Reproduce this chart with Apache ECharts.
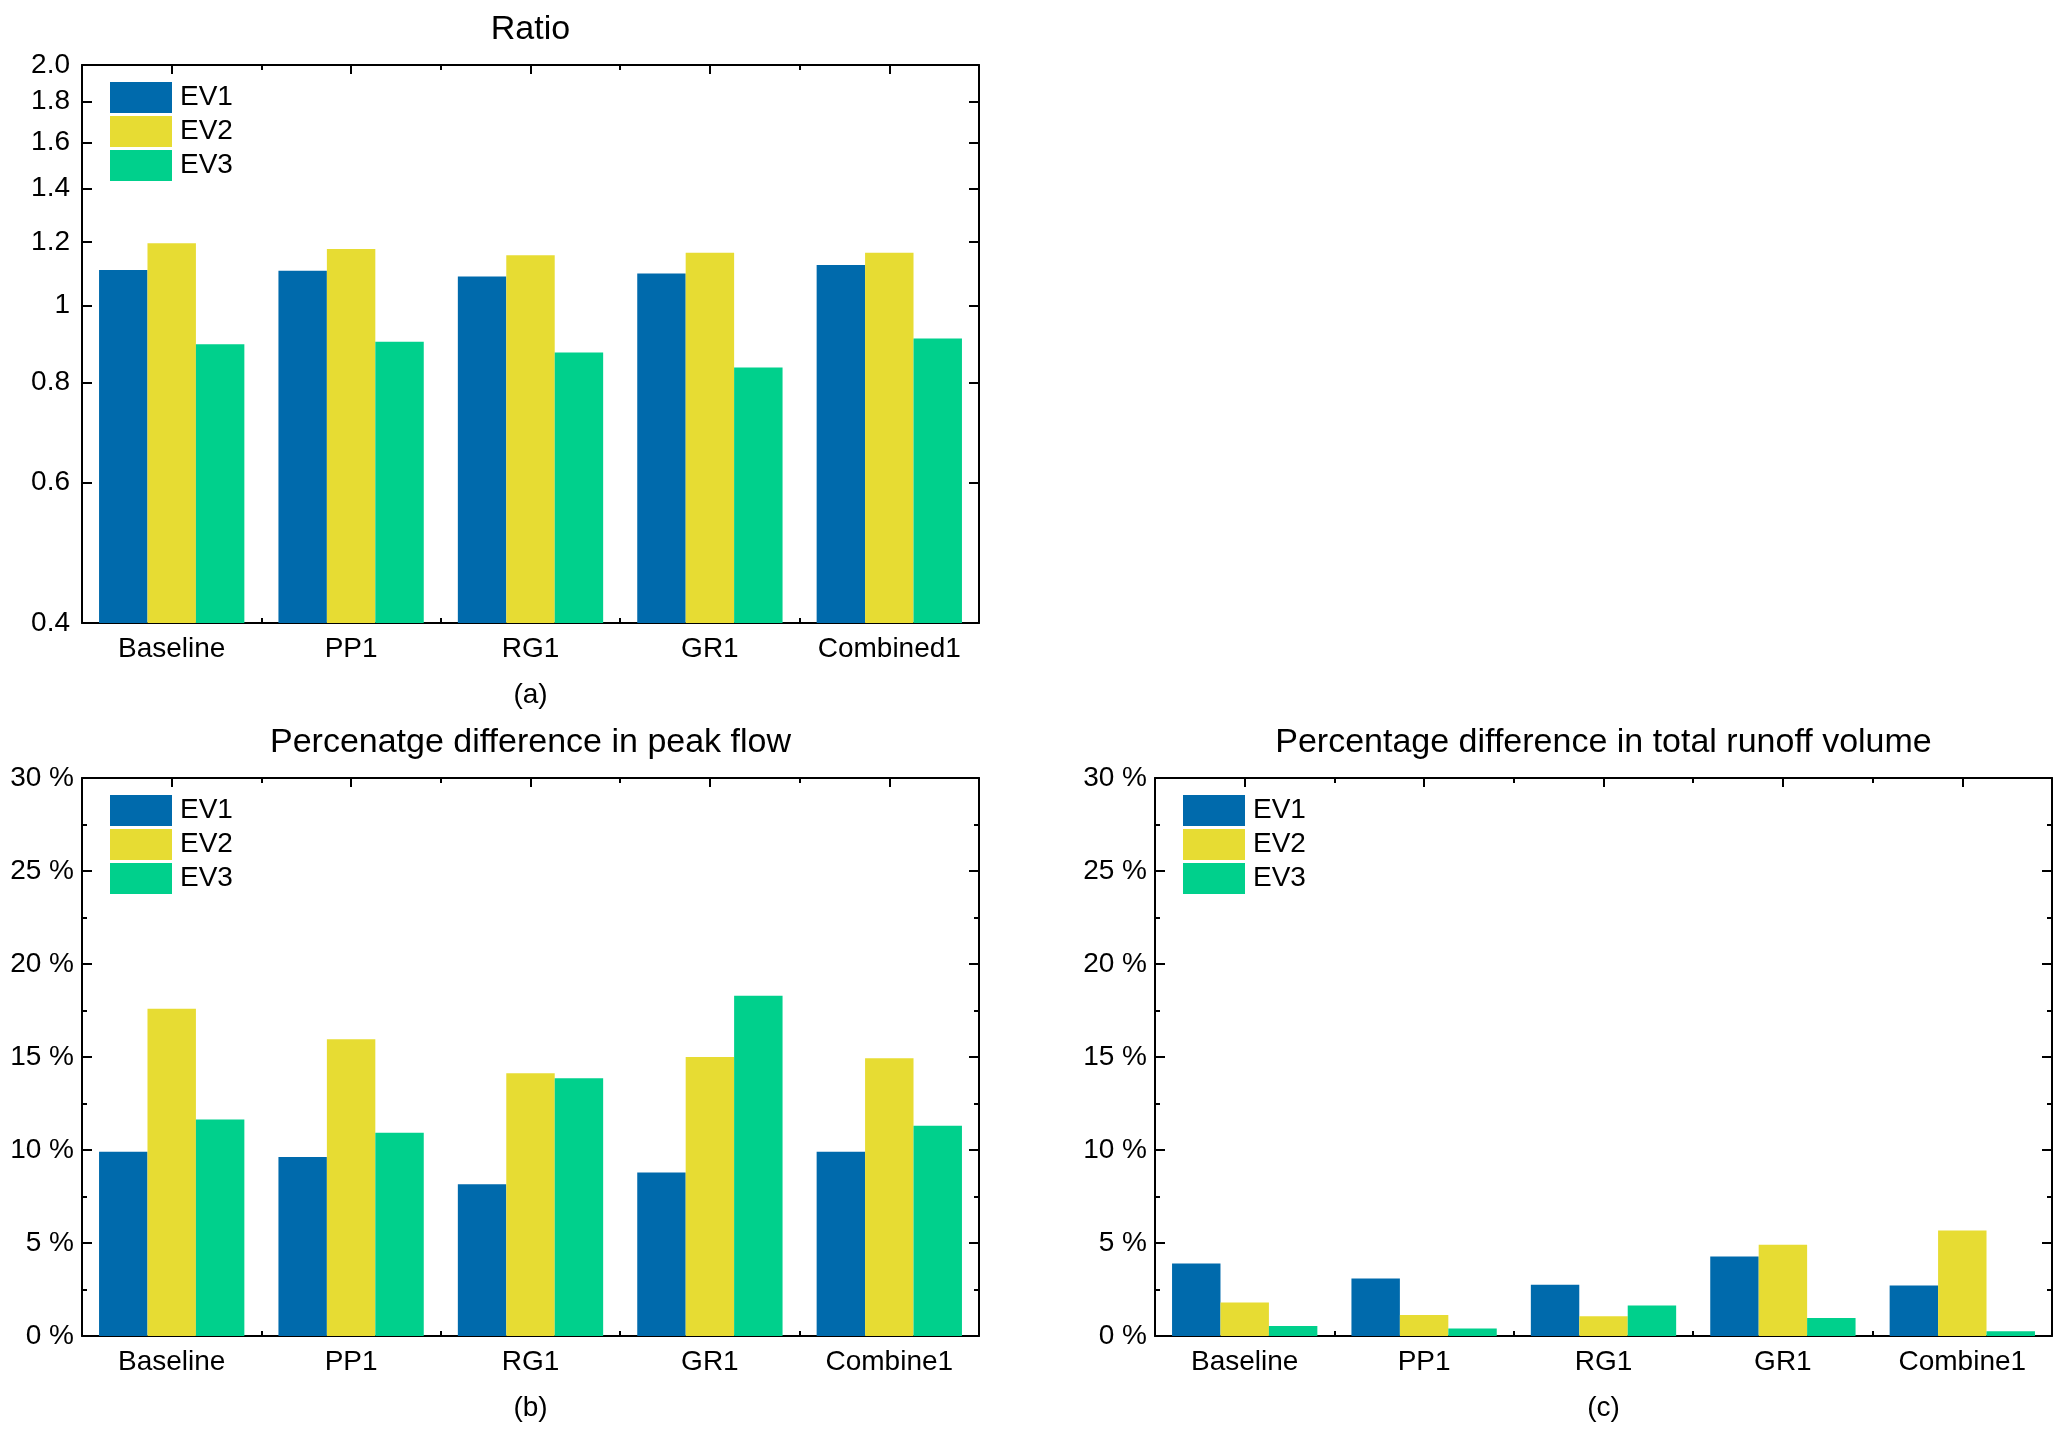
<!DOCTYPE html>
<html><head><meta charset="utf-8">
<script src="https://cdn.jsdelivr.net/npm/echarts@6/dist/echarts.min.js"></script>
<style>html,body{margin:0;padding:0;background:#fff}#c{width:2067px;height:1438px}</style>
</head><body><div id="c"></div>
<script>
const seriesNames = ['EV1', 'EV2', 'EV3'];
const colors = ['#006AAC', '#E7DC33', '#00D08C'];
const catsA = ['Baseline', 'PP1', 'RG1', 'GR1', 'Combined1'];
const catsBC = ['Baseline', 'PP1', 'RG1', 'GR1', 'Combine1'];

const ratioEV1 = [1.107, 1.105, 1.087, 1.096, 1.123];
const ratioEV2 = [1.196, 1.176, 1.155, 1.164, 1.164];
const ratioEV3 = [0.894, 0.900, 0.873, 0.836, 0.909];

const peakEV1 = [9.91, 9.62, 8.16, 8.79, 9.91];
const peakEV2 = [17.59, 15.95, 14.13, 15.0, 14.93];
const peakEV3 = [11.64, 10.93, 13.86, 18.29, 11.30];

const volEV1 = [3.90, 3.09, 2.75, 4.28, 2.72];
const volEV2 = [1.80, 1.13, 1.06, 4.91, 5.67];
const volEV3 = [0.54, 0.40, 1.64, 0.97, 0.25];

const ratioTicks = [0.4, 0.6, 0.8, 1, 1.2, 1.4, 1.6, 1.8, 2.0];
const ratioMin = 0.4, ratioMax = 2.0;
const pctMin = 0, pctMax = 30, pctStep = 5;

const titles = ['Ratio', 'Percenatge difference in peak flow', 'Percentage difference in total runoff volume'];
const subLabels = ['(a)', '(b)', '(c)'];

const FONT = "'Liberation Sans', Arial, sans-serif";
const BLACK = '#000';

const grids = [
  {left: 82, top: 65, width: 897, height: 558},
  {left: 82, top: 778, width: 897, height: 558},
  {left: 1155, top: 778, width: 897, height: 558}
];

const option = {
  backgroundColor: '#fff',
  animation: false,
  textStyle: {fontFamily: FONT},
  grid: grids,
  xAxis: [],
  yAxis: [],
  series: [],
  legend: [],
  graphic: []
};

const lineStyle = {color: BLACK, width: 2};

function addXAxes(gi, cats) {
  const base = option.xAxis.length;
  option.xAxis.push({
    type: 'category', gridIndex: gi, data: cats, position: 'bottom',
    axisLine: {show: true, lineStyle: lineStyle},
    axisTick: {show: true, inside: true, alignWithLabel: true, length: 9, interval: 0, lineStyle: lineStyle},
    axisLabel: {show: true, interval: 0, color: BLACK, fontSize: 28, fontFamily: FONT, margin: 12},
    splitLine: {show: false}
  });
  option.xAxis.push({
    type: 'category', gridIndex: gi, data: cats, position: 'bottom',
    axisLine: {show: false},
    axisTick: {show: true, inside: true, alignWithLabel: false, length: 5, interval: 0, lineStyle: lineStyle},
    axisLabel: {show: false}, splitLine: {show: false}
  });
  option.xAxis.push({
    type: 'category', gridIndex: gi, data: cats, position: 'top',
    axisLine: {show: true, lineStyle: lineStyle},
    axisTick: {show: true, inside: true, alignWithLabel: true, length: 9, interval: 0, lineStyle: lineStyle},
    axisLabel: {show: false}, splitLine: {show: false}
  });
  option.xAxis.push({
    type: 'category', gridIndex: gi, data: cats, position: 'top',
    axisLine: {show: false},
    axisTick: {show: true, inside: true, alignWithLabel: false, length: 5, interval: 0, lineStyle: lineStyle},
    axisLabel: {show: false}, splitLine: {show: false}
  });
  return base;
}

function addYAxesLog(gi) {
  const base = option.yAxis.length;
  const fmt = v => (Math.abs(v - 1) < 1e-9 ? '1' : Number(v).toFixed(1));
  option.yAxis.push({
    type: 'log', logBase: 10, gridIndex: gi, min: ratioMin, max: ratioMax, startValue: ratioMin, position: 'left',
    axisLine: {show: true, lineStyle: lineStyle},
    axisTick: {show: true, inside: true, length: 10, lineStyle: lineStyle, customValues: ratioTicks},
    axisLabel: {show: true, color: BLACK, fontSize: 28, fontFamily: FONT, margin: 12, formatter: fmt, customValues: ratioTicks},
    splitLine: {show: false}
  });
  option.yAxis.push({
    type: 'log', logBase: 10, gridIndex: gi, min: ratioMin, max: ratioMax, startValue: ratioMin, position: 'right',
    axisLine: {show: true, lineStyle: lineStyle},
    axisTick: {show: true, inside: true, length: 10, lineStyle: lineStyle, customValues: ratioTicks},
    axisLabel: {show: false, customValues: ratioTicks},
    splitLine: {show: false}
  });
  return base;
}

function addYAxesPct(gi) {
  const base = option.yAxis.length;
  const common = {
    type: 'value', gridIndex: gi, min: pctMin, max: pctMax, interval: pctStep,
    axisLine: {show: true, lineStyle: lineStyle},
    axisTick: {show: true, inside: true, length: 10, lineStyle: lineStyle},
    minorTick: {show: true, splitNumber: 2, length: 5, lineStyle: lineStyle},
    splitLine: {show: false}, minorSplitLine: {show: false}
  };
  option.yAxis.push(Object.assign({}, common, {
    position: 'left',
    axisLabel: {show: true, color: BLACK, fontSize: 28, fontFamily: FONT, margin: 8, formatter: '{value} %'}
  }));
  option.yAxis.push(Object.assign({}, common, {position: 'right', axisLabel: {show: false}}));
  return base;
}

function addSeries(gi, xi, yi, dataSets) {
  dataSets.forEach((d, k) => {
    option.series.push({
      type: 'bar', name: seriesNames[k], xAxisIndex: xi, yAxisIndex: yi,
      data: d, barGap: '0%', barCategoryGap: '19%',
      itemStyle: {color: colors[k]}
    });
  });
  const g = grids[gi];
  option.legend.push({
    data: seriesNames, orient: 'vertical', left: g.left + 23, top: g.top + 12,
    icon: 'rect', itemWidth: 62, itemHeight: 31, itemGap: 3,
    selectedMode: false,
    textStyle: {fontSize: 28, color: BLACK, fontFamily: FONT, padding: [0, 0, 0, 3]}
  });
  const cx = g.left + g.width / 2;
  option.graphic.push({
    type: 'text', x: cx, y: g.top - 35,
    style: {text: titles[gi], font: '34px ' + FONT, fill: BLACK, textAlign: 'center', textVerticalAlign: 'middle'}
  });
  option.graphic.push({
    type: 'text', x: cx, y: g.top + g.height + 72,
    style: {text: subLabels[gi], font: '28px ' + FONT, fill: BLACK, textAlign: 'center', textVerticalAlign: 'middle'}
  });
}

let xi, yi;
xi = addXAxes(0, catsA); yi = addYAxesLog(0);
addSeries(0, xi, yi, [ratioEV1, ratioEV2, ratioEV3]);
xi = addXAxes(1, catsBC); yi = addYAxesPct(1);
addSeries(1, xi, yi, [peakEV1, peakEV2, peakEV3]);
xi = addXAxes(2, catsBC); yi = addYAxesPct(2);
addSeries(2, xi, yi, [volEV1, volEV2, volEV3]);

const chart = echarts.init(document.getElementById('c'), null, {renderer: 'canvas'});
chart.setOption(option);
</script></body></html>
